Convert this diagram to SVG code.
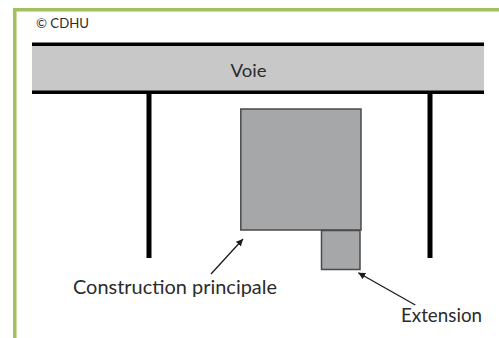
<svg xmlns="http://www.w3.org/2000/svg" width="499" height="338" viewBox="0 0 499 338">
<defs>
<marker id="arrow" markerUnits="userSpaceOnUse" markerWidth="9" markerHeight="9" refX="7" refY="3.5" orient="auto"><path d="M0,0 L7,3.5 L0,7 Z" fill="#1a1a1a"/></marker>
</defs>
<style>
text{font-family:Lato,"Open Sans","Liberation Sans",sans-serif;fill:#2b2b2b}
.b{stroke:#4a4a4a;stroke-width:1.5;fill:#a6a7a9}
.w{stroke:#000;fill:none}
.a{stroke:#1a1a1a;stroke-width:1.3;fill:none;marker-end:url(#arrow)}
</style>
<rect width="499" height="338" fill="#fff"/>
<path d="M14.800,338 V9.700 H499" fill="none" stroke="#a0c15c" stroke-width="3.500"/>
<text x="36" y="28" font-size="14" textLength="53" lengthAdjust="spacingAndGlyphs">© CDHU</text>
<g id="voie">
<rect x="32" y="44" width="452" height="48" fill="#c8c8c8"/>
<path class="w" stroke-width="3.500" d="M32,44.200 H484 M32,92.200 H484"/>
<text x="230.500" y="76.500" font-size="18" textLength="36" lengthAdjust="spacingAndGlyphs">Voie</text>
</g>
<g id="limite-gauche"><path class="w" stroke-width="5" d="M149,93 V258"/></g>
<g id="limite-droite"><path class="w" stroke-width="5" d="M430,93 V258"/></g>
<g id="construction-principale">
<rect class="b" x="240.800" y="109" width="120.200" height="121"/>
<text x="73" y="294" font-size="19" textLength="204" lengthAdjust="spacingAndGlyphs">Construction principale</text>
</g>
<g id="extension">
<rect class="b" x="321.500" y="230.500" width="38.500" height="39"/>
<text x="401" y="322" font-size="19" textLength="81" lengthAdjust="spacingAndGlyphs">Extension</text>
</g>
<g id="connectors">
<path class="a" d="M211,274 L243,239"/>
<path class="a" d="M415.300,305 L358.300,272.700"/>
</g>
</svg>
